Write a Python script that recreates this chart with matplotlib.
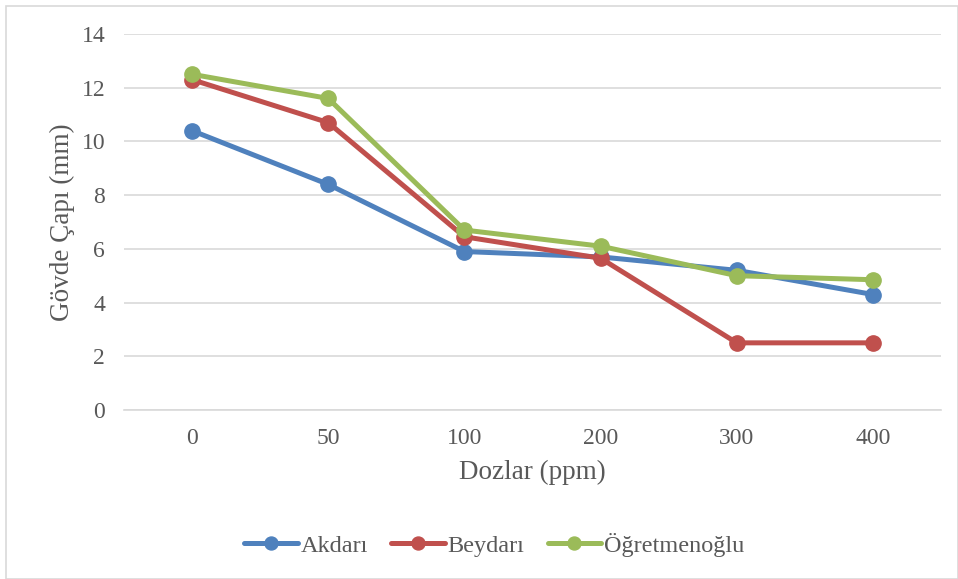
import matplotlib.pyplot as plt
from matplotlib.patches import Rectangle

dozlar = ['0', '50', '100', '200', '300', '400']
akdari = [10.4, 8.4, 5.9, 5.7, 5.2, 4.3]
beydari = [12.3, 10.7, 6.45, 5.65, 2.5, 2.5]
ogretmenoglu = [12.5, 11.6, 6.7, 6.1, 5.0, 4.85]

plt.rcParams['font.family'] = ['Liberation Serif', 'DejaVu Serif']
grey = '#595959'

fig = plt.figure(figsize=(9.58, 5.79), dpi=100)
ax = fig.add_axes([0.1294, 0.2919, 0.8529, 0.6494])

x = range(len(dozlar))
ax.plot(x, akdari, color='#4f81bd', lw=3.6, marker='o', ms=11, label='Akdarı', solid_capstyle='round')
ax.plot(x, beydari, color='#c0504d', lw=3.6, marker='o', ms=11, label='Beydarı', solid_capstyle='round')
ax.plot(x, ogretmenoglu, color='#9bbb59', lw=3.6, marker='o', ms=11, label='Öğretmenoğlu', solid_capstyle='round')

ax.set_xlim(-0.5, 5.5)
ax.set_ylim(0, 14)
ax.set_yticks(range(0, 15, 2))
ax.set_xticks(list(x))
ax.set_xticklabels(dozlar)
ax.grid(axis='y', color='#d9d9d9', lw=1.2)
ax.set_axisbelow(True)
for s in ['top', 'right', 'left']:
    ax.spines[s].set_visible(False)
ax.spines['bottom'].set_color('#d9d9d9')
ax.spines['bottom'].set_linewidth(1.2)
ax.tick_params(length=0, labelsize=17, labelcolor=grey, pad=13)
ax.tick_params(axis='y', pad=13.5)
ax.set_xlabel('Dozlar (ppm)', fontsize=19.5, color=grey, labelpad=8)
ax.set_ylabel('Gövde Çapı (mm)', fontsize=19.5, color=grey, labelpad=5)

leg = fig.legend(loc='center', bbox_to_anchor=(0.516, 0.059), ncol=3, frameon=False,
                 fontsize=17.5, labelcolor=grey, handlelength=2.2, columnspacing=0.95,
                 handletextpad=0.12, markerscale=0.85)

fig.patches.append(Rectangle((0.006, 0.0), 0.994, 0.99, transform=fig.transFigure,
                             fill=False, edgecolor='#d9d9d9', lw=1.2))

fig.savefig('out.png', dpi=100)
